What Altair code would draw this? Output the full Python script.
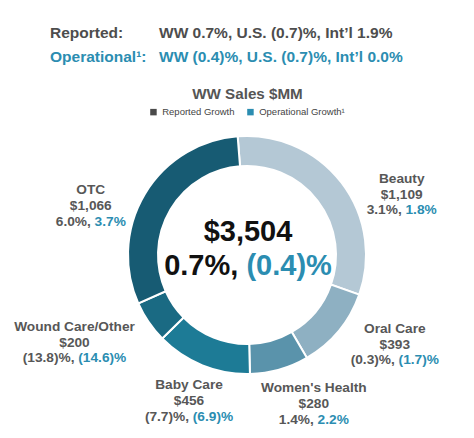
import math
import altair as alt
import pandas as pd

# ---------------- data ----------------
categories = ["Beauty", "Oral Care", "Women's Health", "Baby Care", "Wound Care/Other", "OTC"]
sales = [1109, 393, 280, 456, 200, 1066]
sales_labels = ["$1,109", "$393", "$280", "$456", "$200", "$1,066"]
reported = ["3.1%", "(0.3)%", "1.4%", "(7.7)%", "(13.8)%", "6.0%"]
operational = ["1.8%", "(1.7)%", "2.2%", "(6.9)%", "(14.6)%", "3.7%"]
slice_colors = ["#b4c8d5", "#8eb0c2", "#5a93ab", "#1d7b96", "#1a6a83", "#175b73"]

total_label = "$3,504"
total_reported = "0.7%"
total_operational = "(0.4)%"

header_labels = ["Reported:", "Operational¹:"]
header_values = ["WW 0.7%, U.S. (0.7)%, Int’l 1.9%", "WW (0.4)%, U.S. (0.7)%, Int’l 0.0%"]
chart_title = "WW Sales $MM"
legend_labels = ["Reported Growth", "Operational Growth¹"]
legend_colors = ["#4a4a4a", "#2b8db1"]

# ---------------- styles / layout ----------------
GRAY = "#575757"
DARK = "#4d4d4d"
TEAL = "#2b8db1"
FONT = "Liberation Sans"
LABEL_SIZE = 13.7
CENTER_SIZE = 29
LINE = 15.8
OFF = 8  # page margin

# label anchor: centre x, baseline of first line (page coordinates)
label_anchor = {
    "Beauty": (401.7, 182.7),
    "Oral Care": (394.8, 332.7),
    "Women's Health": (313.8, 392.3),
    "Baby Care": (189.0, 389.3),
    "Wound Care/Other": (74.5, 330.7),
    "OTC": (90.8, 194.0),
}

# Helvetica-Bold advance widths (Liberation Sans Bold is metric compatible)
W = {str(d): 556 for d in range(10)}
W.update({".": 278, ",": 278, " ": 278, "%": 889, "(": 333, ")": 333, "$": 556})


def tw(s, size):
    return sum(W.get(c, 556) for c in s) / 1000 * size


rows = []


def add(text, x, y, color, size, align):
    rows.append(dict(text=text, x=x - OFF, y=y - OFF, color=color, size=size, align=align))


def split_line(a, b, cx, y, size, ca, cb):
    ga = a + ","
    total = tw(ga, size) + tw(" ", size) + tw(b, size)
    left = cx - total / 2
    xs = left + tw(ga, size)
    add(ga, xs, y, ca, size, "right")
    add(b, xs + tw(" ", size), y, cb, size, "left")


# header
add(header_labels[0], 50, 38, DARK, 15.5, "left")
add(header_values[0], 159, 38, DARK, 15.5, "left")
add(header_labels[1], 50, 62, TEAL, 15.5, "left")
add(header_values[1], 159, 62, TEAL, 15.5, "left")
add(chart_title, 247.5, 99, "#555555", 15.2, "center")

# centre
add(total_label, 248, 241, "#111111", CENTER_SIZE, "center")
split_line(total_reported, total_operational, 248, 275, CENTER_SIZE, "#111111", TEAL)

# slice labels
for c, s, r, o in zip(categories, sales_labels, reported, operational):
    cx, by = label_anchor[c]
    add(c, cx, by, GRAY, LABEL_SIZE, "center")
    add(s, cx, by + LINE, GRAY, LABEL_SIZE, "center")
    split_line(r, o, cx, by + 2 * LINE, LABEL_SIZE, GRAY, TEAL)

texts = pd.DataFrame(rows)

slices = pd.DataFrame({"cat": categories, "sales": sales, "idx": list(range(len(categories)))})

start = math.radians(-4.5)

arcs = alt.Chart(slices).mark_arc(
    outerRadius=119, innerRadius=89, stroke="white", strokeWidth=2
).encode(
    theta=alt.Theta("sales:Q", stack=True, scale=alt.Scale(range=[start, start + 2 * math.pi])),
    order=alt.Order("idx:Q"),
    color=alt.Color("cat:N", scale=alt.Scale(domain=categories, range=slice_colors), legend=None),
    x=alt.value(247 - OFF),
    y=alt.value(255 - OFF),
)

legend_df = pd.DataFrame({"g": legend_labels})
legend_layer = alt.Chart(legend_df).mark_square(opacity=0).encode(
    x=alt.value(0),
    y=alt.value(0),
    fill=alt.Fill(
        "g:N",
        scale=alt.Scale(domain=legend_labels, range=legend_colors),
        legend=alt.Legend(
            orient="none", legendX=148.7 - OFF, legendY=112 - OFF - 5,
            direction="horizontal", title=None, symbolType="square",
            symbolSize=42, symbolOpacity=1, symbolStrokeWidth=0,
            labelFont=FONT, labelFontSize=9.5, labelColor="#444444",
            labelOffset=4, columnPadding=11, labelFontWeight="normal",
        ),
    ),
)


def text_layer(align):
    return alt.Chart(texts).transform_filter(alt.datum.align == align).mark_text(
        align=align, baseline="alphabetic", font=FONT, fontWeight="bold"
    ).encode(
        x=alt.X("x:Q", scale=None, axis=None),
        y=alt.Y("y:Q", scale=None, axis=None),
        text="text:N",
        color=alt.Color("color:N", scale=None),
        size=alt.Size("size:Q", scale=None),
    )


chart = alt.layer(
    arcs, legend_layer, text_layer("center"), text_layer("left"), text_layer("right")
).resolve_scale(color="independent").properties(
    width=458, height=422, autosize=alt.AutoSizeParams(type="none"), padding=0, background="white"
).configure_view(stroke=None)

chart.save("out.html", embed_options={"renderer": "svg", "actions": False})
